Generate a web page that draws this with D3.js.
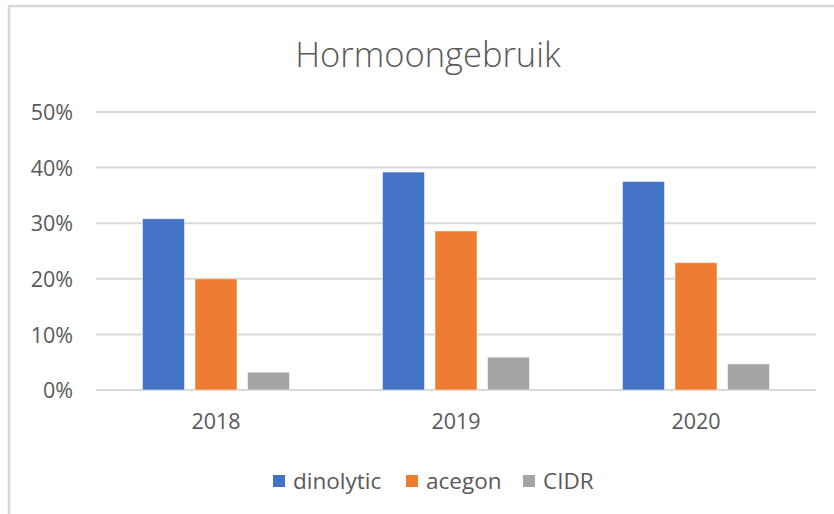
<!DOCTYPE html>
<html lang="en">
    <head>
        <meta charset="utf-8">
        <title>Hormoongebruik</title>
        <script type="text/javascript" src="https://d3js.org/d3.v7.min.js"></script>
        <style type="text/css">
            body { margin: 0; background: #fff; }
            text { font-family: "Open Sans", sans-serif; fill: #595959; }
        </style>
    </head>
    <body>
        <script>

        // Chart data
        var years = ["2018", "2019", "2020"];
        var seriesNames = ["dinolytic", "acegon", "CIDR"];
        var dinolytic = [0.308, 0.392, 0.375];
        var acegon = [0.200, 0.286, 0.229];
        var cidr = [0.032, 0.059, 0.047];
        var yTicks = [0, 0.1, 0.2, 0.3, 0.4, 0.5];
        var colors = ["#4472C4", "#ED7D31", "#A5A5A5"];

        var values = [dinolytic, acegon, cidr];

        var w = 834;
        var h = 514;

        var svg = d3.select("body")
                    .append("svg")
                    .attr("width", w)
                    .attr("height", h);

        // Light border of the chart area (cut off on the right and bottom)
        svg.append("rect")
           .attr("x", 9)
           .attr("y", 6)
           .attr("width", w + 20)
           .attr("height", h + 20)
           .style("fill", "none")
           .style("stroke", "#D9D9D9")
           .style("stroke-width", 2.5);

        // Title
        svg.append("text")
           .attr("x", 428)
           .attr("y", 67)
           .attr("text-anchor", "middle")
           .style("font-size", "34.5px")
           .style("font-weight", 300)
           .text("Hormoongebruik");

        // Scales
        var x0 = d3.scaleBand()
                   .domain(years)
                   .range([96, 816]);

        var x1 = d3.scaleBand()
                   .domain(seriesNames)
                   .range([0, 147])
                   .paddingInner(0.2);

        var y = d3.scaleLinear()
                  .domain([0, 0.5])
                  .range([390, 112]);

        // Gridlines
        svg.selectAll("line.grid")
           .data(yTicks)
           .enter()
           .append("line")
           .attr("class", "grid")
           .attr("x1", 96)
           .attr("x2", 816)
           .attr("y1", function(d) { return y(d); })
           .attr("y2", function(d) { return y(d); })
           .style("stroke", "#D9D9D9")
           .style("stroke-width", 2);

        // Y axis labels
        var yAxis = d3.axisLeft(y)
                      .tickValues(yTicks)
                      .tickFormat(d3.format(".0%"))
                      .tickSize(0)
                      .tickPadding(0);

        var gy = svg.append("g")
                    .attr("transform", "translate(73,0)")
                    .call(yAxis);
        gy.select(".domain").remove();
        gy.selectAll("text")
          .attr("dy", "0.36em")
          .style("font-size", "21.5px")
          .style("fill", "#595959")
          .style("font-family", "'Open Sans', sans-serif");

        // X axis labels
        var xAxis = d3.axisBottom(x0)
                      .tickSize(0)
                      .tickPadding(0);

        var gx = svg.append("g")
                    .attr("transform", "translate(0,414)")
                    .call(xAxis);
        gx.select(".domain").remove();
        gx.selectAll("text")
          .attr("dy", "0.71em")
          .style("font-size", "21.5px")
          .style("fill", "#595959")
          .style("font-family", "'Open Sans', sans-serif");

        // Bars
        var groups = svg.selectAll("g.year")
                        .data(years)
                        .enter()
                        .append("g")
                        .attr("class", "year")
                        .attr("transform", function(d) {
                            return "translate(" + (x0(d) + (x0.bandwidth() - 147) / 2) + ",0)";
                        });

        groups.selectAll("rect")
              .data(function(d, i) {
                  return seriesNames.map(function(s, j) {
                      return { name: s, value: values[j][i], color: colors[j] };
                  });
              })
              .enter()
              .append("rect")
              .attr("x", function(d) { return x1(d.name); })
              .attr("y", function(d) { return y(d.value); })
              .attr("width", x1.bandwidth())
              .attr("height", function(d) { return y(0) - y(d.value); })
              .style("fill", function(d) { return d.color; })
              .style("stroke", "#fff")
              .style("stroke-opacity", 0.5)
              .style("stroke-width", 1);

        // Legend
        var legendX = [273, 406, 523];
        var legend = svg.selectAll("g.legend")
                        .data(seriesNames)
                        .enter()
                        .append("g")
                        .attr("class", "legend")
                        .attr("transform", function(d, i) {
                            return "translate(" + legendX[i] + ",475)";
                        });

        legend.append("rect")
              .attr("width", 12)
              .attr("height", 12)
              .style("fill", function(d, i) { return colors[i]; });

        legend.append("text")
              .attr("x", 20)
              .attr("y", 6)
              .attr("dy", "0.36em")
              .style("font-size", "22.5px")
              .text(function(d) { return d; });

        </script>
    </body>
</html>
